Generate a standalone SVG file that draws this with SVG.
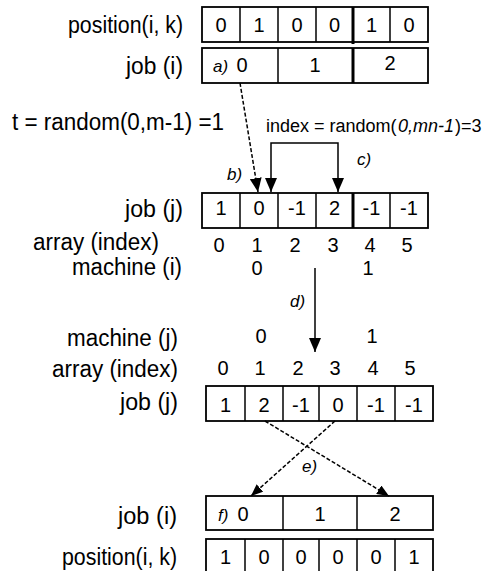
<svg xmlns="http://www.w3.org/2000/svg" width="484" height="571" viewBox="0 0 484 571">
<style>
text{font-family:"Liberation Sans",Arial,sans-serif;fill:#000}
.lbl{font-size:23px}
.idx{font-size:18px}
.num{font-size:20px;text-anchor:middle}
.it{font-style:italic;font-size:17px}
.cell{fill:#fff;stroke:#000;stroke-width:1.8}
.div{stroke:#000;stroke-width:1.5}
.thick{stroke:#000;stroke-width:3}
.conn{fill:none;stroke:#000;stroke-width:1.5}
.dash{stroke-dasharray:4 2}
</style>
<defs>
<marker id="ah" viewBox="0 0 14 12" refX="14" refY="6" markerWidth="14" markerHeight="12" markerUnits="userSpaceOnUse" orient="auto-start-reverse">
<path d="M0,0 L14,6 L0,12 z" fill="#000"/>
</marker>
<marker id="ahs" viewBox="0 0 12 10" refX="12" refY="5" markerWidth="12" markerHeight="10" markerUnits="userSpaceOnUse" orient="auto">
<path d="M0,0 L12,5 L0,10 z" fill="#000"/>
</marker>
</defs>
<rect width="484" height="571" fill="#fff"/>

<g id="labels">
<text class="lbl" x="68" y="33" textLength="115" lengthAdjust="spacingAndGlyphs">position(i, k)</text>
<text class="lbl" x="126" y="74" textLength="57" lengthAdjust="spacingAndGlyphs">job (i)</text>
<text class="lbl" x="12" y="130" textLength="212" lengthAdjust="spacingAndGlyphs">t = random(0,m-1) =1</text>
<text class="idx" x="266" y="132">index = random(</text>
<text class="idx" x="398" y="132" font-style="italic">0,mn-1</text>
<text class="idx" x="455" y="132">)=3</text>
<text class="lbl" x="125" y="217" textLength="58" lengthAdjust="spacingAndGlyphs">job (j)</text>
<text class="lbl" x="33" y="250" textLength="126" lengthAdjust="spacingAndGlyphs">array (index)</text>
<text class="lbl" x="72" y="275" textLength="110" lengthAdjust="spacingAndGlyphs">machine (i)</text>
<text class="lbl" x="67" y="346" textLength="111" lengthAdjust="spacingAndGlyphs">machine (j)</text>
<text class="lbl" x="52" y="377" textLength="126" lengthAdjust="spacingAndGlyphs">array (index)</text>
<text class="lbl" x="120" y="410" textLength="58" lengthAdjust="spacingAndGlyphs">job (j)</text>
<text class="lbl" x="118" y="524" textLength="59" lengthAdjust="spacingAndGlyphs">job (i)</text>
<text class="lbl" x="62" y="565" textLength="115" lengthAdjust="spacingAndGlyphs">position(i, k)</text>
</g>

<g id="position-top">
<rect class="cell" x="202" y="7" width="226" height="35"/>
<line class="div" x1="240" y1="7" x2="240" y2="42"/>
<line class="div" x1="278" y1="7" x2="278" y2="42"/>
<line class="div" x1="316" y1="7" x2="316" y2="42"/>
<line class="thick" x1="353" y1="7" x2="353" y2="44"/>
<line class="div" x1="390" y1="7" x2="390" y2="42"/>
<text class="num" x="221" y="32">0</text>
<text class="num" x="259" y="32">1</text>
<text class="num" x="297" y="32">0</text>
<text class="num" x="334.5" y="32">0</text>
<text class="num" x="371.5" y="32">1</text>
<text class="num" x="409" y="32">0</text>
</g>

<g id="job-i-top">
<rect class="cell" x="202" y="48" width="226" height="35"/>
<line class="div" x1="278" y1="48" x2="278" y2="83"/>
<line class="thick" x1="353" y1="48" x2="353" y2="83"/>
<text class="it" x="213" y="72">a)</text>
<text class="num" x="242" y="72">0</text>
<text class="num" x="315" y="72">1</text>
<text class="num" x="390" y="70">2</text>
</g>

<g id="job-j-1">
<rect class="cell" x="202" y="193" width="226" height="35"/>
<line class="div" x1="240" y1="193" x2="240" y2="228"/>
<line class="div" x1="278" y1="193" x2="278" y2="228"/>
<line class="div" x1="316" y1="193" x2="316" y2="228"/>
<line class="thick" x1="353" y1="193" x2="353" y2="228"/>
<line class="div" x1="390" y1="193" x2="390" y2="228"/>
<text class="num" x="221" y="215">1</text>
<text class="num" x="259" y="215">0</text>
<text class="num" x="297" y="215">-1</text>
<text class="num" x="334.5" y="215">2</text>
<text class="num" x="371.5" y="215">-1</text>
<text class="num" x="409" y="215">-1</text>
</g>

<g id="array-1">
<text class="num" x="219" y="252">0</text>
<text class="num" x="257" y="252">1</text>
<text class="num" x="295" y="252">2</text>
<text class="num" x="333" y="252">3</text>
<text class="num" x="370" y="252">4</text>
<text class="num" x="407" y="252">5</text>
</g>

<g id="machine-i">
<text class="num" x="257" y="275">0</text>
<text class="num" x="368" y="275">1</text>
</g>

<g id="machine-j">
<text class="num" x="261" y="343">0</text>
<text class="num" x="372" y="343">1</text>
</g>

<g id="array-2">
<text class="num" x="223" y="375">0</text>
<text class="num" x="260" y="375">1</text>
<text class="num" x="298" y="375">2</text>
<text class="num" x="335" y="375">3</text>
<text class="num" x="373" y="375">4</text>
<text class="num" x="410" y="375">5</text>
</g>

<g id="job-j-2">
<rect class="cell" x="206" y="386" width="227" height="35"/>
<line class="div" x1="245" y1="386" x2="245" y2="421"/>
<line class="div" x1="283" y1="386" x2="283" y2="421"/>
<line class="div" x1="319" y1="386" x2="319" y2="421"/>
<line class="div" x1="357" y1="386" x2="357" y2="421"/>
<line class="div" x1="395" y1="386" x2="395" y2="421"/>
<text class="num" x="225.5" y="412">1</text>
<text class="num" x="264" y="412">2</text>
<text class="num" x="301" y="412">-1</text>
<text class="num" x="338" y="412">0</text>
<text class="num" x="376" y="412">-1</text>
<text class="num" x="414" y="412">-1</text>
</g>

<g id="job-i-bottom">
<rect class="cell" x="206" y="496" width="227" height="34"/>
<line class="div" x1="283" y1="496" x2="283" y2="530"/>
<line class="div" x1="357" y1="496" x2="357" y2="530"/>
<text class="it" x="218" y="521">f)</text>
<text class="num" x="243" y="521">0</text>
<text class="num" x="320" y="521">1</text>
<text class="num" x="395" y="521">2</text>
</g>

<g id="position-bottom">
<rect class="cell" x="206" y="539" width="227" height="36"/>
<line class="div" x1="245" y1="539" x2="245" y2="575"/>
<line class="div" x1="283" y1="539" x2="283" y2="575"/>
<line class="div" x1="319" y1="539" x2="319" y2="575"/>
<line class="div" x1="357" y1="539" x2="357" y2="575"/>
<line class="div" x1="395" y1="539" x2="395" y2="575"/>
<text class="num" x="225.5" y="564">1</text>
<text class="num" x="264" y="564">0</text>
<text class="num" x="301" y="564">0</text>
<text class="num" x="338" y="564">0</text>
<text class="num" x="376" y="564">0</text>
<text class="num" x="414" y="564">1</text>
</g>

<g id="connectors">
<path class="conn dash" d="M240,83 L258,192" marker-end="url(#ah)"/>
<path class="conn" d="M271,192 V143 H338 V192" marker-start="url(#ah)" marker-end="url(#ah)"/>
<path class="conn" d="M315,268 V352" marker-end="url(#ah)"/>
<path class="conn dash" d="M265,421 L389,496" marker-end="url(#ahs)"/>
<path class="conn dash" d="M335,421 L251,496" marker-end="url(#ahs)"/>
<text class="it" x="227" y="180">b)</text>
<text class="it" x="357" y="165">c)</text>
<text class="it" x="290" y="307">d)</text>
<text class="it" x="302" y="472">e)</text>
</g>
</svg>
